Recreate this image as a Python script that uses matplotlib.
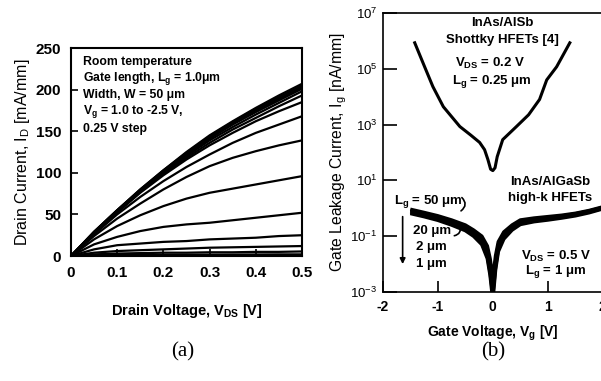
import numpy as np
import matplotlib
matplotlib.use("Agg")
import matplotlib.pyplot as plt

plt.rcParams['font.family'] = 'Liberation Sans'
plt.rcParams['mathtext.fontset'] = 'custom'
plt.rcParams['mathtext.rm'] = 'Liberation Sans'
plt.rcParams['mathtext.bf'] = 'Liberation Sans:bold'
plt.rcParams['axes.unicode_minus'] = False

# ---- (a) Id-Vds, Vg = 1.0 to -2.5 V, 0.25 V step ----
vds = [0, 0.05, 0.1, 0.15, 0.2, 0.25, 0.3, 0.35, 0.4, 0.45, 0.5]
id_curves = [
    [0, 29, 55, 80, 103, 125, 145, 162, 178, 193, 207],
    [0, 29, 55, 80, 103, 124, 144, 161, 177, 191, 205],
    [0, 29, 55, 79, 102, 123, 143, 160, 175, 189, 203],
    [0, 28, 54, 79, 101, 122, 141, 158, 173, 187, 201],
    [0, 28, 54, 78, 100, 120, 139, 155, 170, 184, 198],
    [0, 28, 53, 77, 99, 118, 136, 152, 166, 180, 193],
    [0, 27, 52, 76, 97, 116, 133, 148, 162, 174, 185],
    [0, 26, 50, 71, 90, 107, 122, 136, 148, 158, 168],
    [0, 24, 45, 63, 80, 95, 108, 118, 126, 133, 139],
    [0, 20, 36, 49, 60, 69, 76, 81, 86, 91, 96],
    [0, 14, 23, 30, 35, 38, 40, 43, 46, 49, 52],
    [0, 8, 13, 15, 17, 18, 20, 21, 22, 24, 25],
    [0, 4, 6, 7, 8, 9, 10, 10.5, 11, 11.5, 12],
    [0, 2, 3, 3.5, 4, 4, 4.5, 4.5, 5, 5, 5.5],
    [0, 1, 1.2, 1.4, 1.5, 1.6, 1.7, 1.8, 1.9, 2, 2],
]

# ---- (b) gate leakage (log10 of nA/mm) ----
vg_schottky = [-1.42, -1.24, -1.09, -0.9, -0.6, -0.4, -0.24, -0.15, -0.09, -0.04,
               0.0, 0.04, 0.08, 0.18, 0.43, 0.65, 0.85, 0.98, 1.16, 1.4]
log_ig_schottky = [5.93, 5.07, 4.36, 3.64, 2.93, 2.62, 2.36, 2.1, 1.75, 1.4,
                   1.35, 1.45, 1.85, 2.46, 2.93, 3.35, 3.9, 4.6, 5.07, 5.93]

vg_highk = [-1.47, -1.25, -1.0, -0.75, -0.5, -0.35, -0.2, -0.1, -0.05, 0.0, 0.05,
            0.1, 0.2, 0.35, 0.5, 0.75, 1.0, 1.25, 1.5, 1.75, 2.0]
log_ig_highk = {
    '50': [-0.05, -0.15, -0.27, -0.42, -0.6, -0.78, -1.0, -1.35, -1.8, -2.5, -1.7,
           -1.2, -0.85, -0.6, -0.42, -0.35, -0.3, -0.25, -0.18, -0.08, 0.05],
    '20': [-0.1, -0.2, -0.32, -0.48, -0.68, -0.85, -1.1, -1.5, -2.0, -2.8, -1.9,
           -1.3, -0.95, -0.66, -0.48, -0.4, -0.34, -0.28, -0.2, -0.1, 0.03],
    '2': [-0.15, -0.26, -0.38, -0.55, -0.75, -0.95, -1.25, -1.7, -2.3, -3.1, -2.1,
          -1.45, -1.05, -0.72, -0.53, -0.44, -0.38, -0.31, -0.23, -0.13, 0.0],
    '1': [-0.2, -0.3, -0.43, -0.6, -0.8, -1.0, -1.3, -1.8, -2.4, -3.3, -2.2,
          -1.55, -1.1, -0.78, -0.58, -0.48, -0.42, -0.35, -0.27, -0.16, -0.02],
}

fig = plt.figure(figsize=(6.01, 3.81), dpi=100)

# left panel
ax1 = fig.add_axes([0.118, 0.328, 0.3845, 0.546])
for curve in id_curves:
    ax1.plot(vds, curve, color='black', lw=1.6)
ax1.set_xlim(0, 0.5)
ax1.set_ylim(0, 250)
ax1.set_xticks([0, 0.1, 0.2, 0.3, 0.4, 0.5])
ax1.set_xticklabels(['0', '0.1', '0.2', '0.3', '0.4', '0.5'])
ax1.set_yticks([0, 50, 100, 150, 200, 250])
ax1.tick_params(direction='in', length=5, width=1.2, labelsize=11, pad=7)
for lab in ax1.get_xticklabels() + ax1.get_yticklabels():
    lab.set_fontweight('bold')
for sp in ax1.spines.values():
    sp.set_linewidth(1.5)
ax1.set_xlabel('Drain Voltage, V$_\\mathbf{DS}$ [V]', fontsize=10.5,
               fontweight='bold', labelpad=16)
ax1.set_ylabel('Drain Current, I$_\\mathrm{D}$ [mA/mm]', fontsize=11.5, labelpad=3)

notes = ['Room temperature',
         'Gate length, L$_\\mathbf{g}$ = 1.0\u03bcm',
         'Width, W = 50 \u03bcm',
         'V$_\\mathbf{g}$ = 1.0 to -2.5 V,',
         '0.25 V step']
for i, t in enumerate(notes):
    ax1.text(0.052, 0.933 - i * 0.08, t, transform=ax1.transAxes, fontsize=8.8,
             fontweight='bold', va='center', ha='left')

# right panel
ax2 = fig.add_axes([0.637, 0.2336, 0.366, 0.7324])
ax2.plot(vg_schottky, 10 ** np.array(log_ig_schottky), color='black', lw=2.2)
for key, vals in log_ig_highk.items():
    ax2.plot(vg_highk, 10 ** np.array(vals), color='black', lw=2.5)
ax2.set_yscale('log')
ax2.set_xlim(-2, 2)
ax2.set_ylim(1e-3, 1e7)
ax2.set_xticks([-2, -1, 0, 1, 2])
ax2.set_yticks([1e-3, 1e-1, 1e1, 1e3, 1e5, 1e7])
ax2.set_yticklabels(['10$^{-3}$', '10$^{-1}$', '10$^{1}$', '10$^{3}$', '10$^{5}$', '10$^{7}$'])
ax2.minorticks_off()
ax2.tick_params(axis='y', direction='in', length=10, width=1.2, labelsize=9.5, pad=4)
ax2.tick_params(axis='x', direction='in', length=8, width=1.2, labelsize=10, pad=6)
for lab in ax2.get_xticklabels():
    lab.set_fontweight('bold')
for sp in ax2.spines.values():
    sp.set_linewidth(1.2)
ax2.set_xlabel('Gate Voltage, V$_\\mathbf{g}$ [V]', fontsize=10, fontweight='bold',
               labelpad=7)
ax2.set_ylabel('Gate Leakage Current, I$_\\mathrm{g}$ [nA/mm]', fontsize=11.3, labelpad=1)

kw = dict(fontsize=9.5, fontweight='bold', ha='center', va='center')
ax2.text(0.18, 10 ** 6.64, 'InAs/AlSb', **kw)
ax2.text(0.18, 10 ** 6.04, 'Shottky HFETs [4]', **kw)
ax2.text(-0.05, 10 ** 5.18, 'V$_\\mathbf{DS}$ = 0.2 V', **kw)
ax2.text(-0.02, 10 ** 4.54, 'L$_\\mathbf{g}$ = 0.25 \u03bcm', **kw)
ax2.text(1.05, 10 ** 0.93, 'InAs/AlGaSb', **kw)
ax2.text(1.05, 10 ** 0.36, 'high-k HFETs', **kw)
ax2.text(-1.18, 10 ** 0.25, 'L$_\\mathbf{g}$ = 50 \u03bcm', **kw)
ax2.text(-1.11, 10 ** -0.82, '20 \u03bcm', **kw)
ax2.text(-1.11, 10 ** -1.39, '2 \u03bcm', **kw)
ax2.text(-1.11, 10 ** -2.0, '1 \u03bcm', **kw)
ax2.text(1.15, 10 ** -1.71, 'V$_\\mathbf{DS}$ = 0.5 V', **kw)
ax2.text(1.15, 10 ** -2.25, 'L$_\\mathbf{g}$ = 1 \u03bcm', **kw)

ax2.annotate('', xy=(-1.64, 10 ** -2.1), xytext=(-1.64, 10 ** -0.2),
             arrowprops=dict(arrowstyle='-|>', color='black', lw=1.2,
                             mutation_scale=8))
ax2.annotate('', xy=(-0.62, 10 ** -0.15), xytext=(-0.6, 10 ** 0.45),
             arrowprops=dict(arrowstyle='-', color='black', lw=1.2,
                             connectionstyle='arc3,rad=-0.7'))
ax2.annotate('', xy=(-0.75, 10 ** -1.0), xytext=(-0.62, 10 ** -0.55),
             arrowprops=dict(arrowstyle='-', color='black', lw=1.2,
                             connectionstyle='arc3,rad=-0.7'))

fig.text(0.3045, 0.076, '(a)', family='Liberation Serif', fontsize=15,
         ha='center', va='center')
fig.text(0.820, 0.076, '(b)', family='Liberation Serif', fontsize=15,
         ha='center', va='center')

fig.savefig('out.png', dpi=100)
